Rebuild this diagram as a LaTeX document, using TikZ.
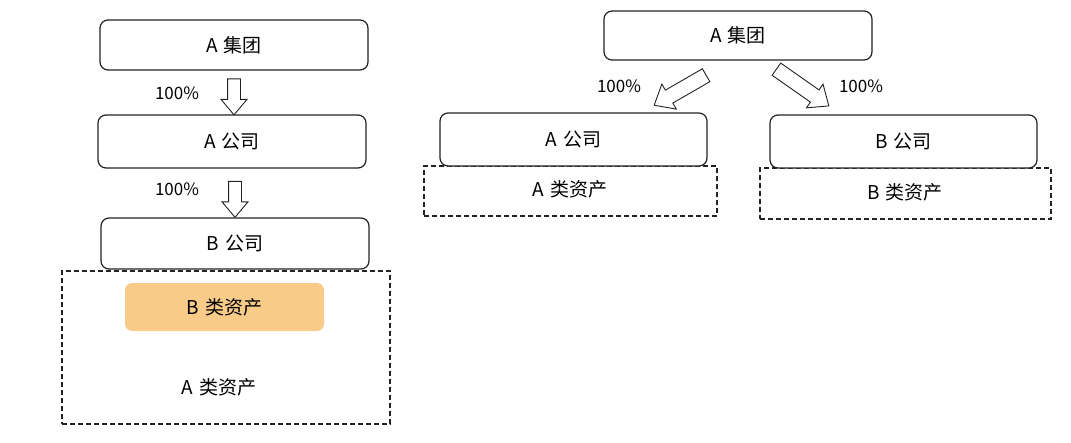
\documentclass[tikz,border=0pt]{standalone}
\usepackage{fontspec}
\setmainfont[WordSpace=1.3]{Noto Sans CJK SC}
\usepackage{tikz}
\usetikzlibrary{shapes.arrows,backgrounds}
\definecolor{boxline}{HTML}{222222}
\definecolor{assetfill}{HTML}{F8CB89}
\tikzset{
  % kasten
  ent/.style={rectangle,rounded corners=8pt,draw=boxline,fill=white,line width=1.2pt,
              minimum width=268pt,inner sep=0pt,font=\fontsize{19pt}{22pt}\selectfont},
  pool/.style={rectangle,draw=boxline,line width=1.2pt,dash pattern=on 5pt off 3pt,
               inner sep=0pt},
  hl/.style={rectangle,rounded corners=7pt,fill=assetfill,inner sep=0pt,
             font=\fontsize{19pt}{22pt}\selectfont},
  lbl/.style={inner sep=0pt,font=\fontsize{19pt}{22pt}\selectfont},
  pct/.style={inner sep=0pt,font=\fontsize{17pt}{20pt}\selectfont},
  % pfeile
  own/.style={single arrow,draw=boxline,fill=white,line width=0.9pt,inner sep=6pt,
              single arrow head extend=6.5pt,single arrow tip angle=80},
  ownwide/.style={own,inner sep=7pt,single arrow head extend=7pt},
}
\begin{document}
\begin{tikzpicture}[x=1pt,y=-1pt]
  \useasboundingbox (0,0) rectangle (1071,442);
  % links: kette
  \node[ent,minimum height=50pt] (grpL) at (234,45) {A 集团};
  \node[ent,minimum height=53pt] (coAL) at (232,141.5) {A 公司};
  \node[ent,minimum height=51pt] (coBL) at (235,243.5) {B 公司};
  \node[pool,minimum width=328pt,minimum height=153pt] (poolAL) at (226,347.5) {};
  \node[hl,minimum width=199pt,minimum height=48pt] (poolBL) at (224.5,307) {B 类资产};
  \node[lbl] (txtAL) at (219,387) {A 类资产};
  \node[own,rotate=270,minimum height=36pt] (arrL1) at (234,93) {};
  \node[own,rotate=270,minimum height=36pt] (arrL2) at (235,195.5) {};
  \node[pct] (pctL1) at (177,93) {100\%};
  \node[pct] (pctL2) at (177,189) {100\%};
  % rechts: zwei toechter
  \node[pool,minimum width=293pt,minimum height=50pt] (poolAR) at (570.5,191) {};
  \node[lbl] (txtAR) at (570,189) {A 类资产};
  \node[pool,minimum width=291pt,minimum height=51pt] (poolBR) at (905.5,193.5) {};
  \node[lbl] (txtBR) at (905,192) {B 类资产};
  \node[ent,minimum height=49pt] (grpR) at (738,35.5) {A 集团};
  \node[ent,minimum width=267pt,minimum height=53pt] (coAR) at (573.5,139.5) {A 公司};
  \node[ent,minimum width=267pt,minimum height=53pt] (coBR) at (903.5,141.5) {B 公司};
  \node[ownwide,rotate=210,minimum height=60pt] (arrR1) at (684,88) {};
  \node[ownwide,rotate=325,minimum height=64pt] (arrR2) at (799,85) {};
  \node[pct] (pctR1) at (619,86) {100\%};
  \node[pct] (pctR2) at (861,86) {100\%};
\end{tikzpicture}
\end{document}
